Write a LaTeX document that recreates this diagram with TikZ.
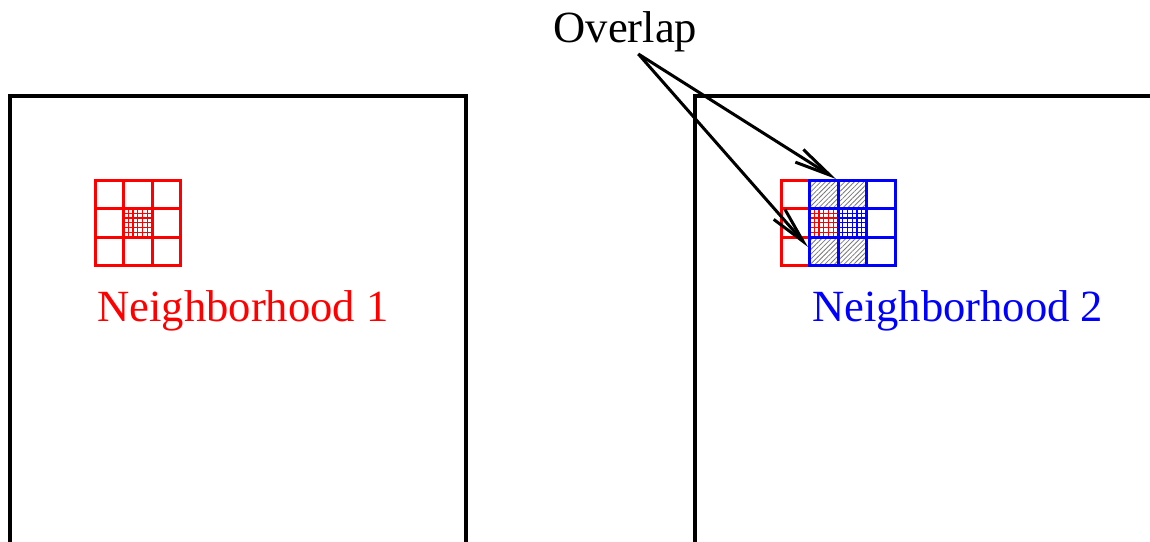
\documentclass[tikz,border=0pt]{standalone}
\usepackage{fontspec}
\setmainfont{Liberation Serif}
\usetikzlibrary{arrows.meta,positioning,patterns.meta}
\definecolor{nb@red}{RGB}{255,0,0}
\definecolor{nb@blue}{RGB}{0,0,255}
\definecolor{nb@hatch}{RGB}{120,120,120}
\makeatletter
\tikzset{
  nbfig/.style={
    x=0.5pt, y=-0.5pt,
    line width=1.5pt,
    every node/.style={font=\fontsize{22.3}{26}\selectfont, inner sep=0pt}
  },
  domainbox/.style={draw=black, line width=2pt, line join=miter},  % mesh domain
  coarse/.style={line width=1.5pt, line cap=rect},                   % neighbourhood cells
  fine/.style={line width=0.6pt},                                    % refined centre cell
  shared/.style={pattern={Lines[angle=45,distance=1.7pt,line width=0.4pt]},
    pattern color=nb@hatch},
  ovarrow/.style={-{Straight Barb[length=18pt,width=7.5pt]}, line width=1.5pt}
}
\makeatother
% 3x3 neighbourhood: colour, left, top (px)
\newcommand{\nbgrid}[3]{%
  \foreach \k in {0,1,2,3}{
    \draw[coarse, #1] ({#2+28.5*\k},#3) -- ({#2+28.5*\k},{#3+85.5});
    \draw[coarse, #1] (#2,{#3+28.5*\k}) -- ({#2+85.5},{#3+28.5*\k});
  }}
% refined centre cell: colour, left, top (px)
\newcommand{\nbfine}[3]{%
  \foreach \k in {1,...,5}{
    \draw[fine, #1] ({#2+4.75*\k},#3) -- ({#2+4.75*\k},{#3+28.5});
    \draw[fine, #1] (#2,{#3+4.75*\k}) -- ({#2+28.5},{#3+4.75*\k});
  }}
\begin{document}
\begin{tikzpicture}[nbfig]
\useasboundingbox (0,0) rectangle (1150,541);
\clip (0,0) rectangle (1150,541);

% the two domains
\draw[domainbox] (10,560) -- (10,96) -- (466,96) -- (466,560);
\draw[domainbox] (695,560) -- (695,96) -- (1170,96);

% neighbourhood 1
\nbfine{nb@red}{123.5}{208.5}
\nbgrid{nb@red}{95}{180}
\coordinate (nbA) at (95,265.5);
\node[anchor=north west, text=nb@red, below right=12pt and 0.5pt of nbA] (labA) {Neighborhood 1};

% neighbourhood 2 (red one shifted by a cell, blue on top)
\nbgrid{nb@red}{781}{180}
\fill[shared] (809.5,180) rectangle (866.5,208.5);
\fill[shared] (809.5,237) rectangle (866.5,265.5);
\nbfine{nb@red}{809.5}{208.5}
\nbfine{nb@blue}{838}{208.5}
\nbgrid{nb@blue}{809.5}{180}
\coordinate (nbB) at (809.5,265.5);
\node[anchor=north west, text=nb@blue, below right=12pt and 0.5pt of nbB] (labB) {Neighborhood 2};

% overlap callout
\node[anchor=base west] (ovlabel) at (552,42) {Overlap};
\coordinate (apex) at ([xshift=6.5pt,yshift=-0.5pt]ovlabel.south);
\coordinate (ovtop) at (836,179);
\coordinate (ovbot) at (808,247);
\draw[ovarrow] (apex) -- (ovtop);
\draw[ovarrow] (apex) -- (ovbot);

\end{tikzpicture}
\end{document}
